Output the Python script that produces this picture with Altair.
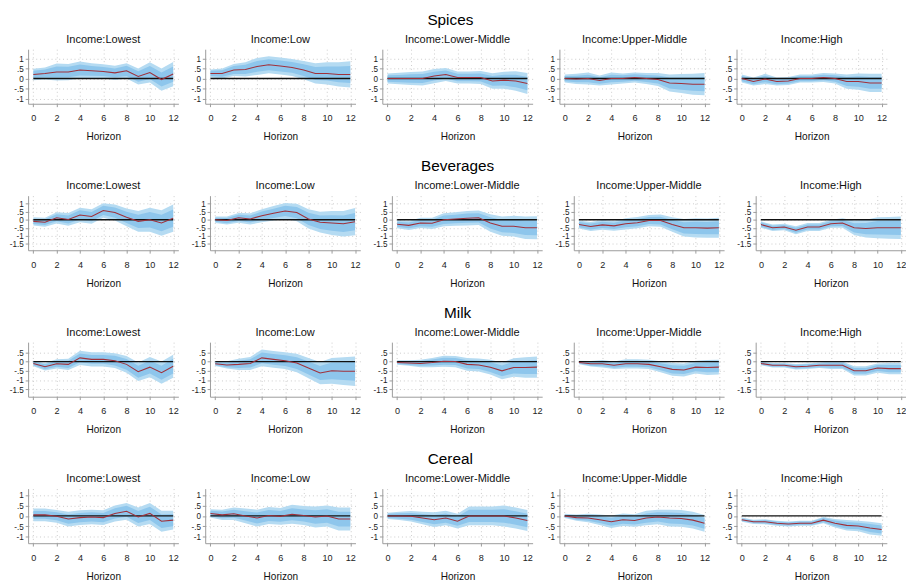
import altair as alt
import pandas as pd

horizon = list(range(13))
categories = ["Spices", "Beverages", "Milk", "Cereal"]
incomes = ["Lowest", "Low", "Lower-Middle", "Upper-Middle", "High"]

# ---------------- Spices ----------------
spices_irf = {
    "Lowest": [0.2, 0.25, 0.32, 0.32, 0.42, 0.38, 0.35, 0.28, 0.38, 0.1, 0.3, -0.05, 0.22],
    "Low": [0.25, 0.25, 0.42, 0.45, 0.6, 0.68, 0.62, 0.55, 0.42, 0.25, 0.25, 0.2, 0.2],
    "Lower-Middle": [0, 0, 0, 0, 0.12, 0.2, 0.05, 0.05, 0.05, -0.12, -0.08, -0.12, -0.25],
    "Upper-Middle": [0, -0.02, 0, -0.1, 0, 0, 0.05, 0, -0.05, -0.22, -0.25, -0.28, -0.28],
    "High": [0, -0.15, -0.02, -0.15, -0.12, 0, 0, 0.05, 0, -0.15, -0.15, -0.22, -0.22],
}
spices_hw90 = {
    "Lowest": [0.28, 0.3, 0.42, 0.4, 0.42, 0.38, 0.35, 0.35, 0.38, 0.4, 0.5, 0.55, 0.6],
    "Low": [0.2, 0.25, 0.3, 0.35, 0.42, 0.42, 0.42, 0.42, 0.45, 0.5, 0.55, 0.6, 0.65],
    "Lower-Middle": [0.25, 0.28, 0.32, 0.35, 0.35, 0.32, 0.3, 0.3, 0.32, 0.38, 0.42, 0.48, 0.52],
    "Upper-Middle": [0.2, 0.25, 0.3, 0.25, 0.3, 0.25, 0.25, 0.27, 0.32, 0.42, 0.47, 0.52, 0.55],
    "High": [0.2, 0.2, 0.25, 0.2, 0.2, 0.2, 0.2, 0.22, 0.25, 0.35, 0.4, 0.45, 0.45],
}
spices_hw68 = {
    "Lowest": [0.18, 0.2, 0.27, 0.26, 0.27, 0.24, 0.22, 0.22, 0.25, 0.26, 0.32, 0.35, 0.38],
    "Low": [0.13, 0.16, 0.2, 0.23, 0.27, 0.27, 0.27, 0.27, 0.29, 0.32, 0.35, 0.39, 0.42],
    "Lower-Middle": [0.16, 0.18, 0.21, 0.22, 0.22, 0.2, 0.19, 0.19, 0.2, 0.24, 0.27, 0.31, 0.33],
    "Upper-Middle": [0.13, 0.16, 0.19, 0.16, 0.19, 0.16, 0.16, 0.17, 0.2, 0.27, 0.3, 0.33, 0.35],
    "High": [0.13, 0.13, 0.16, 0.13, 0.13, 0.13, 0.13, 0.14, 0.16, 0.22, 0.26, 0.29, 0.29],
}

# ---------------- Beverages ----------------
beverages_irf = {
    "Lowest": [-0.1, -0.15, 0.12, 0.02, 0.3, 0.2, 0.58, 0.45, 0.15, -0.1, 0, -0.2, 0.1],
    "Low": [0, -0.05, 0.12, 0.05, 0.25, 0.4, 0.55, 0.45, 0.05, -0.15, -0.2, -0.25, -0.12],
    "Lower-Middle": [-0.28, -0.35, -0.2, -0.22, 0, 0.05, 0.1, 0.12, -0.2, -0.4, -0.4, -0.5, -0.5],
    "Upper-Middle": [-0.3, -0.42, -0.32, -0.38, -0.25, -0.18, -0.05, -0.05, -0.3, -0.5, -0.5, -0.52, -0.5],
    "High": [-0.3, -0.5, -0.45, -0.65, -0.45, -0.45, -0.25, -0.2, -0.5, -0.55, -0.5, -0.5, -0.5],
}
beverages_hw90 = {
    "Lowest": [0.25, 0.28, 0.35, 0.4, 0.45, 0.45, 0.45, 0.5, 0.55, 0.65, 0.75, 0.8, 0.85],
    "Low": [0.2, 0.25, 0.3, 0.35, 0.4, 0.45, 0.5, 0.55, 0.6, 0.65, 0.75, 0.8, 0.85],
    "Lower-Middle": [0.25, 0.28, 0.32, 0.35, 0.4, 0.42, 0.45, 0.45, 0.55, 0.6, 0.65, 0.7, 0.72],
    "Upper-Middle": [0.25, 0.28, 0.3, 0.3, 0.35, 0.35, 0.35, 0.38, 0.45, 0.55, 0.6, 0.6, 0.62],
    "High": [0.2, 0.2, 0.2, 0.25, 0.25, 0.25, 0.25, 0.3, 0.45, 0.55, 0.65, 0.68, 0.7],
}
beverages_hw68 = {
    "Lowest": [0.16, 0.18, 0.22, 0.25, 0.29, 0.29, 0.29, 0.32, 0.35, 0.42, 0.48, 0.51, 0.54],
    "Low": [0.13, 0.16, 0.19, 0.22, 0.26, 0.29, 0.32, 0.35, 0.38, 0.42, 0.48, 0.51, 0.54],
    "Lower-Middle": [0.16, 0.18, 0.2, 0.22, 0.26, 0.27, 0.29, 0.29, 0.35, 0.38, 0.42, 0.45, 0.46],
    "Upper-Middle": [0.16, 0.18, 0.19, 0.19, 0.22, 0.22, 0.22, 0.24, 0.29, 0.35, 0.38, 0.38, 0.4],
    "High": [0.13, 0.13, 0.13, 0.16, 0.16, 0.16, 0.16, 0.19, 0.29, 0.35, 0.42, 0.44, 0.45],
}

# ---------------- Milk ----------------
milk_irf = {
    "Lowest": [-0.1, -0.28, -0.12, -0.15, 0.2, 0.12, 0.12, 0.05, -0.15, -0.55, -0.3, -0.6, -0.25],
    "Low": [-0.12, -0.18, -0.15, -0.1, 0.2, 0.12, 0.05, -0.08, -0.35, -0.62, -0.5, -0.52, -0.52],
    "Lower-Middle": [-0.05, -0.08, -0.1, -0.05, 0.02, 0, -0.15, -0.18, -0.3, -0.5, -0.32, -0.32, -0.3],
    "Upper-Middle": [-0.05, -0.12, -0.12, -0.2, -0.12, -0.12, -0.15, -0.28, -0.42, -0.45, -0.3, -0.32, -0.3],
    "High": [-0.1, -0.2, -0.2, -0.28, -0.25, -0.2, -0.2, -0.2, -0.5, -0.5, -0.35, -0.38, -0.38],
}
milk_hw90 = {
    "Lowest": [0.15, 0.2, 0.25, 0.3, 0.38, 0.38, 0.38, 0.4, 0.45, 0.5, 0.55, 0.6, 0.62],
    "Low": [0.12, 0.2, 0.3, 0.35, 0.45, 0.45, 0.45, 0.5, 0.55, 0.6, 0.7, 0.75, 0.8],
    "Lower-Middle": [0.12, 0.15, 0.2, 0.25, 0.3, 0.3, 0.35, 0.35, 0.4, 0.45, 0.5, 0.55, 0.58],
    "Upper-Middle": [0.1, 0.15, 0.2, 0.2, 0.25, 0.25, 0.25, 0.3, 0.35, 0.35, 0.35, 0.4, 0.4],
    "High": [0.1, 0.12, 0.12, 0.15, 0.15, 0.15, 0.2, 0.2, 0.25, 0.25, 0.25, 0.3, 0.3],
}
milk_hw68 = {
    "Lowest": [0.1, 0.13, 0.16, 0.19, 0.24, 0.24, 0.24, 0.26, 0.29, 0.32, 0.35, 0.38, 0.4],
    "Low": [0.08, 0.13, 0.19, 0.22, 0.29, 0.29, 0.29, 0.32, 0.35, 0.38, 0.45, 0.48, 0.51],
    "Lower-Middle": [0.08, 0.1, 0.13, 0.16, 0.19, 0.19, 0.22, 0.22, 0.26, 0.29, 0.32, 0.35, 0.37],
    "Upper-Middle": [0.06, 0.1, 0.13, 0.13, 0.16, 0.16, 0.16, 0.19, 0.22, 0.22, 0.22, 0.26, 0.26],
    "High": [0.06, 0.08, 0.08, 0.1, 0.1, 0.1, 0.13, 0.13, 0.16, 0.16, 0.16, 0.19, 0.19],
}

# ---------------- Cereal ----------------
cereal_irf = {
    "Lowest": [0.05, 0.05, -0.02, -0.15, -0.08, -0.05, -0.08, 0.12, 0.22, -0.05, 0.12, -0.25, -0.2],
    "Low": [0.12, 0.05, 0.1, 0, -0.1, 0.02, -0.02, 0.08, 0.02, -0.05, 0, -0.15, -0.15],
    "Lower-Middle": [0, 0, -0.02, -0.1, -0.18, -0.1, -0.25, 0, 0, 0, 0, -0.1, -0.22],
    "Upper-Middle": [0, -0.08, -0.1, -0.18, -0.28, -0.18, -0.22, -0.1, -0.05, -0.1, -0.12, -0.2, -0.35],
    "High": [-0.18, -0.28, -0.28, -0.35, -0.38, -0.35, -0.35, -0.2, -0.35, -0.45, -0.48, -0.58, -0.65],
}
cereal_hw90 = {
    "Lowest": [0.3, 0.3, 0.3, 0.35, 0.35, 0.35, 0.35, 0.38, 0.4, 0.45, 0.5, 0.5, 0.45],
    "Low": [0.2, 0.25, 0.3, 0.35, 0.4, 0.4, 0.4, 0.45, 0.45, 0.5, 0.5, 0.55, 0.55],
    "Lower-Middle": [0.15, 0.2, 0.25, 0.3, 0.35, 0.35, 0.35, 0.45, 0.45, 0.45, 0.5, 0.5, 0.5],
    "Upper-Middle": [0.1, 0.15, 0.2, 0.25, 0.3, 0.3, 0.3, 0.35, 0.35, 0.4, 0.4, 0.4, 0.4],
    "High": [0.1, 0.1, 0.12, 0.12, 0.12, 0.12, 0.12, 0.15, 0.2, 0.25, 0.25, 0.3, 0.3],
}
cereal_hw68 = {
    "Lowest": [0.19, 0.19, 0.19, 0.22, 0.22, 0.22, 0.22, 0.24, 0.26, 0.29, 0.32, 0.32, 0.29],
    "Low": [0.13, 0.16, 0.19, 0.22, 0.26, 0.26, 0.26, 0.29, 0.29, 0.32, 0.32, 0.35, 0.35],
    "Lower-Middle": [0.1, 0.13, 0.16, 0.19, 0.22, 0.22, 0.22, 0.29, 0.29, 0.29, 0.32, 0.32, 0.32],
    "Upper-Middle": [0.06, 0.1, 0.13, 0.16, 0.19, 0.19, 0.19, 0.22, 0.22, 0.26, 0.26, 0.26, 0.26],
    "High": [0.06, 0.06, 0.08, 0.08, 0.08, 0.08, 0.08, 0.1, 0.13, 0.16, 0.16, 0.19, 0.19],
}

irf_by_cat = {"Spices": spices_irf, "Beverages": beverages_irf, "Milk": milk_irf, "Cereal": cereal_irf}
hw90_by_cat = {"Spices": spices_hw90, "Beverages": beverages_hw90, "Milk": milk_hw90, "Cereal": cereal_hw90}
hw68_by_cat = {"Spices": spices_hw68, "Beverages": beverages_hw68, "Milk": milk_hw68, "Cereal": cereal_hw68}

y_domains = {
    "Spices": [-1.25, 1.45],
    "Beverages": [-1.9, 1.5],
    "Milk": [-1.9, 1.05],
    "Cereal": [-1.3, 1.3],
}
y_ticks = {
    "Spices": [-1, -0.5, 0, 0.5, 1],
    "Beverages": [-1.5, -1, -0.5, 0, 0.5, 1],
    "Milk": [-1.5, -1, -0.5, 0, 0.5],
    "Cereal": [-1, -0.5, 0, 0.5, 1],
}
x_ticks = [0, 2, 4, 6, 8, 10, 12]

OUTER = "#b5dbf2"
INNER = "#8ec6ec"
RED = "#a0303a"
FONT = "Liberation Sans"


def panel(cat, inc):
    irf = irf_by_cat[cat][inc]
    h90 = hw90_by_cat[cat][inc]
    h68 = hw68_by_cat[cat][inc]
    df = pd.DataFrame({"h": horizon, "irf": irf, "hw90": h90, "hw68": h68})
    df["lo90"] = df["irf"] - df["hw90"]
    df["hi90"] = df["irf"] + df["hw90"]
    df["lo68"] = df["irf"] - df["hw68"]
    df["hi68"] = df["irf"] + df["hw68"]

    xscale = alt.Scale(domain=[-0.45, 12.45], nice=False, zero=False)
    yscale = alt.Scale(domain=y_domains[cat], nice=False, zero=False)
    x = alt.X("h:Q", scale=xscale,
              axis=alt.Axis(values=x_ticks, tickCount=30, title="Horizon", format="d",
                            labelOverlap=False, labelFlush=False, labelFontSize=9.5,
                            labelPadding=7, titlePadding=10))
    y = alt.Y("lo90:Q", scale=yscale,
              axis=alt.Axis(values=y_ticks[cat], tickCount=30, title=None,
                            labelOverlap=False, labelFlush=False, labelPadding=2,
                            labelFontSize=8.5,
                            labelExpr="replace(toString(datum.value), '0.', '.')"))
    base = alt.Chart(df)
    outer = base.mark_area(color=OUTER, opacity=1).encode(x=x, y=y, y2="hi90:Q")
    inner = base.mark_area(color=INNER, opacity=1).encode(x="h:Q", y="lo68:Q", y2="hi68:Q")
    zero = alt.Chart(pd.DataFrame({"a": [0], "b": [12], "z": [0]})).mark_rule(
        color="#111", strokeWidth=1.4).encode(x="a:Q", x2="b:Q", y="z:Q")
    line = base.mark_line(color=RED, strokeWidth=1.1).encode(x="h:Q", y="irf:Q")
    return alt.layer(outer, inner, zero, line).properties(
        width=157, height=57,
        title=alt.TitleParams(text="Income:" + inc, fontSize=11.5, fontWeight="normal",
                              font=FONT, offset=4, color="#111"),
    )


rows = []
for cat in categories:
    row = alt.hconcat(*[panel(cat, inc) for inc in incomes], spacing=13).properties(
        title=alt.TitleParams(text=cat, fontSize=16, fontWeight="normal", font=FONT,
                              anchor="middle", offset=7, color="#000")
    )
    rows.append(row)

chart = alt.vconcat(*rows, spacing=17).properties(
    padding={"left": 1, "top": -9, "right": 0, "bottom": 0}
).configure_view(stroke=None).configure_axis(
    labelFont=FONT, titleFont=FONT, titleFontSize=10.5,
    titleFontWeight="normal", labelColor="#222", titleColor="#111",
    domainColor="#999", tickColor="#999", tickSize=3,
    grid=True, gridColor="#bbbbbb", gridDash=[1, 3], gridWidth=0.8,
)

chart.save("out.html", embed_options={"renderer": "svg", "actions": False})
